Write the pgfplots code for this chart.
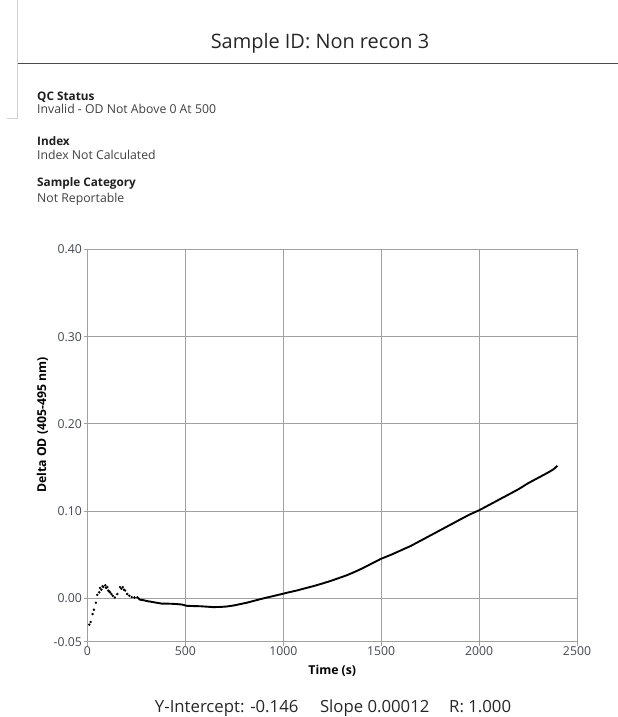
\documentclass[border=0pt]{standalone}
\usepackage{fontspec}
\setmainfont{Open Sans}
\usepackage{pgfplots}
\pgfplotsset{compat=1.18}
\definecolor{gridc}{HTML}{A0A0A0}
\definecolor{zeroc}{HTML}{5A5A5A}
\definecolor{tickc}{HTML}{45484E}
\definecolor{hdr}{HTML}{4A4A4A}
\pgfplotstableread{
t y
9 -0.030
16 -0.027
26 -0.018
33 -0.013
43 -0.005
50 0.004
60 0.007
64 0.012
71 0.010
77 0.014
81 0.013
91 0.015
95 0.012
101 0.013
106 0.009
110 0.008
115 0.007
122 0.005
129 0.003
140 0.001
152 0.005
166 0.013
173 0.011
180 0.013
186 0.010
192 0.009
203 0.005
214 0.003
226 0.0015
240 0.0010
}\earlydata
\pgfplotstableread{
t y
251 0.0020
268 -0.0015
285 -0.0020
302 -0.0030
328 -0.0040
353 -0.0050
379 -0.0060
404 -0.0060
430 -0.0062
456 -0.0065
481 -0.0070
507 -0.0085
540 -0.0088
575 -0.0090
610 -0.0095
642 -0.0100
680 -0.0098
711 -0.0093
745 -0.0082
779 -0.0066
813 -0.0050
850 -0.0028
898 0.0000
940 0.0022
983 0.0045
1025 0.0068
1068 0.0090
1110 0.0115
1153 0.0140
1196 0.0168
1239 0.0198
1280 0.0230
1324 0.0265
1366 0.0305
1409 0.0350
1452 0.0400
1500 0.0455
1550 0.0500
1600 0.0550
1650 0.0600
1700 0.0660
1750 0.0720
1800 0.0780
1850 0.0840
1900 0.0900
1950 0.0960
2000 0.1010
2050 0.1070
2100 0.1130
2150 0.1190
2200 0.1250
2250 0.1320
2300 0.1380
2350 0.1440
2380 0.1480
2400 0.1520
}\maindata
\begin{document}
\begin{tikzpicture}
\path[use as bounding box] (0bp,0bp) rectangle (618bp,717bp);
\begin{axis}[
  name=ax,
  at={(87.5bp,75bp)}, anchor=south west,
  width=489.5bp, height=392.5bp, scale only axis,
  xmin=0, xmax=2500, ymin=-0.05, ymax=0.40,
  xtick={0,500,1000,1500,2000,2500},
  ytick={-0.05,0.1,0.2,0.3,0.4},
  extra y ticks={0},
  extra y tick style={grid style={zeroc, line width=1.2bp}},
  grid=major,
  major grid style={gridc, line width=1bp},
  axis line style={gridc, line width=1bp},
  tick style={gridc, line width=1bp},
  tick align=outside, major tick length=4bp,
  xtick pos=bottom, ytick pos=left,
  scaled x ticks=false, scaled y ticks=false,
  /pgf/number format/assume math mode=true,
  /pgf/number format/1000 sep={},
  yticklabel style={/pgf/number format/.cd, fixed, fixed zerofill, precision=2, /tikz/.cd,
     font=\fontsize{12.3}{13}\selectfont, text=tickc, inner sep=0pt, anchor=east, xshift=-1.5bp},
  xticklabel style={font=\fontsize{12.3}{13}\selectfont, text=tickc, inner sep=0pt, anchor=north, yshift=-0.5bp},
  clip=false,
]
\addplot[only marks, mark=*, mark size=1bp, black] table[x=t, y=y] {\earlydata};
\addplot[black, line width=1.9bp, line join=round] table[x=t, y=y] {\maindata};
\end{axis}
\begin{scope}[x=1bp,y=1bp]
% header decoration
\draw[black!18, line width=1bp] (17.7,717) -- (17.7,598) -- (7,598);
\draw[hdr, line width=1.8bp] (17.7,653.5) -- (618,653.5);
\node[anchor=base, inner sep=0pt, font=\fontsize{20}{22}\selectfont, text=black!85] at (320,668.7) {Sample ID: Non recon 3};
% info block
\node[anchor=base west, inner sep=0pt, font=\fontsize{11.8}{13}\selectfont\bfseries, text=black!88] at (37,616) {QC Status};
\node[anchor=base west, inner sep=0pt, font=\fontsize{12.3}{13}\selectfont, text=black!75] at (37,603) {Invalid - OD Not Above 0 At 500};
\node[anchor=base west, inner sep=0pt, font=\fontsize{11.8}{13}\selectfont\bfseries, text=black!88] at (37,571) {Index};
\node[anchor=base west, inner sep=0pt, font=\fontsize{12.3}{13}\selectfont, text=black!75] at (37,557) {Index Not Calculated};
\node[anchor=base west, inner sep=0pt, font=\fontsize{11.8}{13}\selectfont\bfseries, text=black!88] at (37,530) {Sample Category};
\node[anchor=base west, inner sep=0pt, font=\fontsize{12.3}{13}\selectfont, text=black!75] at (37,514) {Not Reportable};
% axis titles
\node[anchor=base, inner sep=0pt, font=\fontsize{12.3}{13}\selectfont\bfseries] at (332.3,42.6) {Time (s)};
\node[rotate=90, inner sep=0pt, font=\fontsize{12.3}{13}\selectfont\bfseries] at (42.5,292) {Delta OD (405-495 nm)};
% footer
\node[anchor=base west, inner sep=0pt, font=\fontsize{16.8}{18}\selectfont, text=black!85] at (154.8,4.5) {Y-Intercept: -0.146};
\node[anchor=base west, inner sep=0pt, font=\fontsize{16.8}{18}\selectfont, text=black!85] at (319.8,4.5) {Slope 0.00012};
\node[anchor=base west, inner sep=0pt, font=\fontsize{16.8}{18}\selectfont, text=black!85] at (449,4.5) {R: 1.000};
\end{scope}
\end{tikzpicture}
\end{document}
